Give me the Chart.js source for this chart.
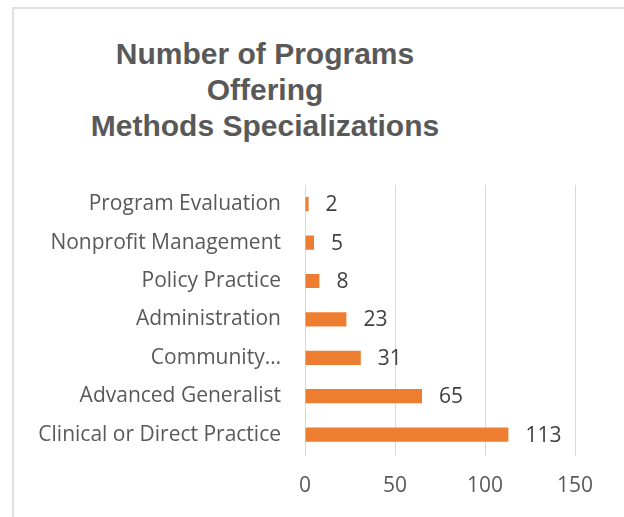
<!DOCTYPE html>
<html>
<head>
<meta charset="utf-8">
<script src="https://cdn.jsdelivr.net/npm/chart.js@4"></script>
<style>
    body { margin: 0; background: #fff; }
    #wrap { position: relative; width: 624px; height: 517px; overflow: hidden; }
    #frame { position: absolute; left: 12px; top: 7px; width: 620px; height: 520px; border: 2px solid #e0e0e0; box-sizing: border-box; }
    #title { position: absolute; left: 0; width: 530px; top: 36px; text-align: center;
        font: bold 30px "Liberation Sans", Arial, sans-serif; line-height: 36px; color: #595959; }
    canvas { position: absolute; left: 0; top: 0; }
</style>
</head>
<body>
<div id="wrap">
    <div id="frame"></div>
    <div id="title">Number of Programs<br>Offering<br>Methods Specializations</div>
    <canvas id="myBarChart" width="624" height="517"></canvas>
</div>
<script>
var categories = [
    "Program Evaluation",
    "Nonprofit Management",
    "Policy Practice",
    "Administration",
    "Community…",
    "Advanced Generalist",
    "Clinical or Direct Practice"
];
var programCounts = [2, 5, 8, 23, 31, 65, 113];
var xTicks = [0, 50, 100, 150];

// draws the number at the end of each bar
var valueLabels = {
    id: 'valueLabels',
    afterDatasetsDraw: function(chart) {
        var ctx = chart.ctx;
        var meta = chart.getDatasetMeta(0);
        ctx.save();
        ctx.font = '21px "Open Sans"';
        ctx.fillStyle = '#404040';
        ctx.textAlign = 'left';
        ctx.textBaseline = 'middle';
        meta.data.forEach(function(bar, i) {
            ctx.fillText(String(programCounts[i]), bar.x + 17, bar.y + 1);
        });
        ctx.restore();
    }
};

var ctx = document.getElementById('myBarChart').getContext('2d');
var myBarChart = new Chart(ctx, {
    type: 'bar',
    data: {
        labels: categories,
        datasets: [{
            data: programCounts,
            backgroundColor: '#ED7D31',
            categoryPercentage: 1,
            barPercentage: 0.37
        }]
    },
    options: {
        indexAxis: 'y',
        responsive: false,
        animation: false,
        layout: {
            padding: { top: 185, right: 49, bottom: 0, left: 0 }
        },
        scales: {
            x: {
                min: 0,
                max: 150,
                afterBuildTicks: function(scale) {
                    scale.ticks = xTicks.map(function(v) { return { value: v }; });
                },
                grid: { color: '#d9d9d9', tickLength: 2 },
                border: { display: false },
                ticks: {
                    padding: 18,
                    color: '#595959',
                    font: { family: 'Open Sans', size: 21 }
                }
            },
            y: {
                afterFit: function(scale) { scale.width = 305; },
                grid: { display: false },
                border: { display: false },
                ticks: {
                    padding: 16,
                    color: '#595959',
                    font: { family: 'Open Sans', size: 21 }
                }
            }
        },
        plugins: {
            legend: { display: false },
            tooltip: { enabled: false }
        }
    },
    plugins: [valueLabels]
});
</script>
</body>
</html>
